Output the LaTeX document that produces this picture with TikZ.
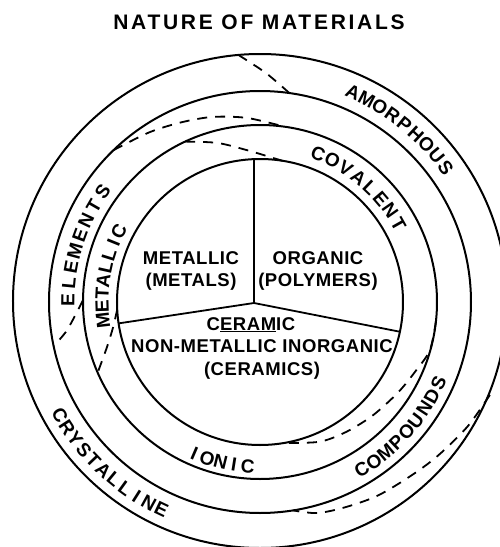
\documentclass[tikz,border=0pt]{standalone}
\usepackage{fontspec}
\setmainfont{Liberation Sans}
\newfontfamily\titlefont[LetterSpace=13]{Liberation Sans}
\newfontfamily\piefont[LetterSpace=3]{Liberation Sans}
\usetikzlibrary{calc}

\begin{document}
\begin{tikzpicture}[x=1pt, y=1pt,
    ring/.style={line width=2pt},
    split/.style={line width=1.8pt, dash pattern=on 10pt off 8pt},
    ringletter/.style={inner sep=0pt, font=\bfseries\fontsize{19}{19}\selectfont},
    pietext/.style={align=center, inner sep=0pt,
        font=\piefont\bfseries\fontsize{18.5}{22.5}\selectfont}]
  \clip (-260,-245) rectangle (240,302);

  % title
  \node[font=\titlefont\bfseries\fontsize{21}{21}\selectfont] (title) at (-1,280) {NATURE OF MATERIALS};

  % the four rings
  \draw[ring] (0,0) circle[radius=143];
  \draw[ring] (0,0) circle[radius=177];
  \draw[ring] (0,0) circle[radius=211];
  \draw[ring] (0,1) circle[radius=247];

  % pie in the middle
  \coordinate (hub) at (-6,-1);
  \coordinate (pietop) at (-6,143);
  \coordinate (pieleft) at (188.6:143);
  \coordinate (pieright) at (-12:143);
  \draw[line width=1.8pt] (pietop) -- (hub) -- (pieleft);
  \draw[line width=1.8pt] (hub) -- (pieright);

  \node[pietext] (metals) at (-69,31) {METALLIC\\(METALS)};
  \node[pietext] (polymers) at (58,31) {ORGANIC\\(POLYMERS)};
  \node[pietext] (ceramics) at (2,-46)
    {C\underline{ERAM}IC\hspace*{22pt}\\NON-METALLIC INORGANIC\\(CERAMICS)};

  % curved ring labels, letter by letter:
  % first angle / last angle / radius / turn / letters / name / spelling
  \foreach \first/\last/\rad/\turn/\n/\tag/\letters in {
      68.5/29.4/159/270/8/covalent/{C,O,V,A,L,E,N,T},
      186.5/153.3/158/270/8/metallic/{M,E,T,A,L,L,I,C},
      246.6/265.7/165/90/5/ionic/{I,O,N,I,C},
      179.4/145/192/270/8/elements/{E,L,E,M,E,N,T,S},
      301.3/335.6/196/90/9/compounds/{C,O,M,P,O,U,N,D,S},
      66/35.8/229/270/9/amorphous/{A,M,O,R,P,H,O,U,S},
      209.5/244.6/230/90/11/crystalline/{C,R,Y,S,T,A,L,L,I,N,E}}
    \foreach \ch [count=\i] in \letters {
      \pgfmathsetmacro{\a}{\first+(\i-1)*(\last-\first)/(\n-1)}
      \node[ringletter, rotate=\a+\turn] (\tag-\i) at (\a:\rad) {\ch};
    }

  % dashed borders between the regions
  \draw[split] plot[smooth] coordinates {(95:248) (88.5:229) (82:211)};
  \draw[split] plot[smooth] coordinates {(-22:248) (-31:242) (-41:235) (-49.4:230)
    (-59:226.5) (-68:222) (-75:218.5) (-81:211)};
  \draw[split] plot[smooth] coordinates {(134:211) (123:202.5) (113.4:196) (104.3:191)
    (94:184.5) (82:177)};
  \draw[split] plot[smooth] coordinates {(179.4:177) (188.3:195) (192:211)};
  \draw[split] plot[smooth] coordinates {(115:177) (105:164.7) (95:152.5) (86:145.3) (81:143)};
  \draw[split] plot[smooth] coordinates {(183:143) (189.7:149) (196.4:159.5) (203.5:177)};
  \draw[split] plot[smooth] coordinates {(-6:177) (-15.8:176.6) (-24.3:170) (-33.4:165)
    (-45:160) (-56.2:156) (-66.8:152) (-80:143)};
\end{tikzpicture}
\end{document}
